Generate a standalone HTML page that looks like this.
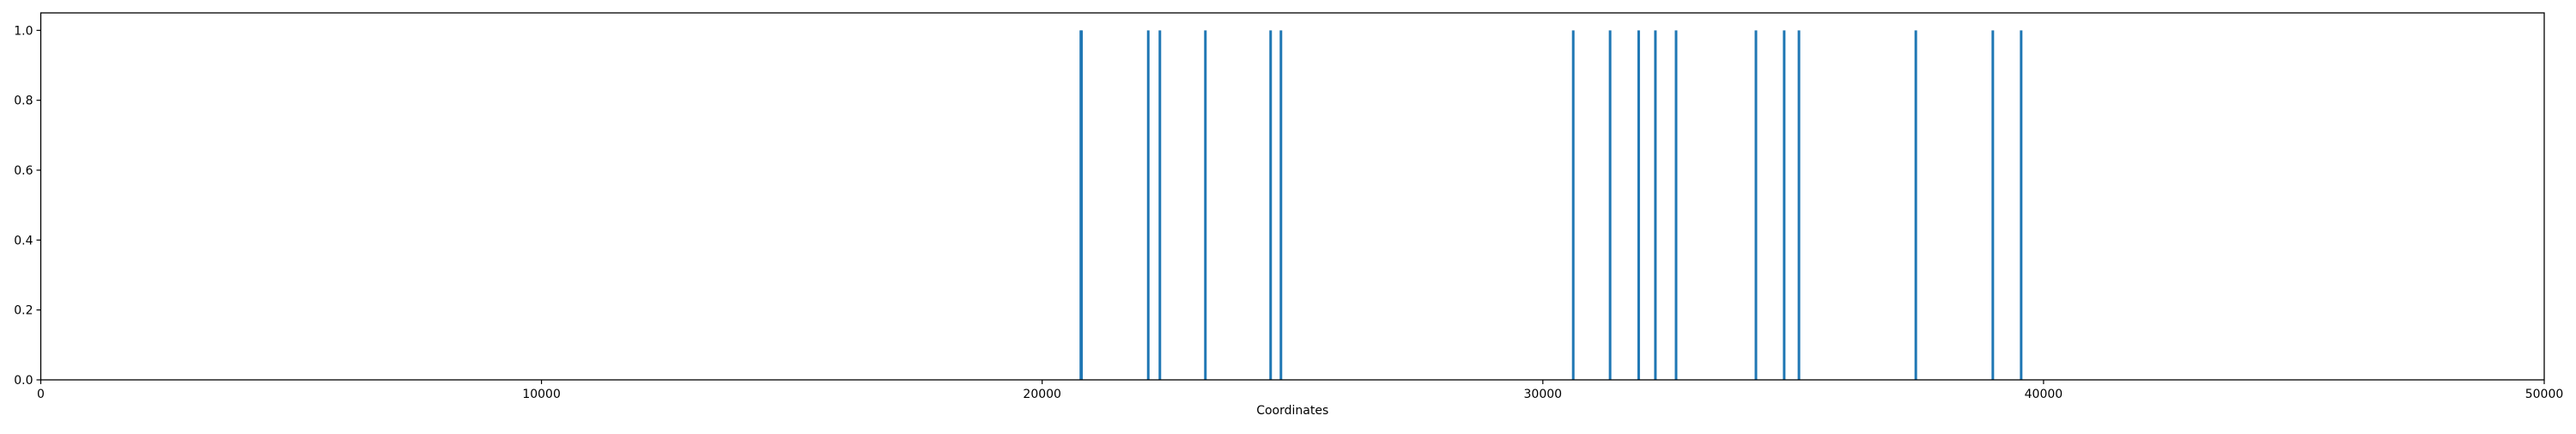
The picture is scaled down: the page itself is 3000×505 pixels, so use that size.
<!DOCTYPE html>
<html><head><meta charset="utf-8"><style>
html,body{margin:0;padding:0;background:#fff;}
svg text{font-family:"DejaVu Sans","Liberation Sans",sans-serif;font-size:14px;fill:#000;}
</style></head><body>
<svg id="chart" width="3000" height="500" xmlns="http://www.w3.org/2000/svg">
<g id="marks"></g>
<g id="axes"></g>
</svg>
<script>
const positions = [20772, 20786, 22119, 22351, 23260, 24563, 24769, 30607, 31343, 31914, 32248, 32661, 34256, 34820, 35115, 37449, 38987, 39553];
const heights = [1,1,1,1,1,1,1,1,1,1,1,1,1,1,1,1,1,1];
const xTicks = [0, 10000, 20000, 30000, 40000, 50000];
const yTicks = [0.0, 0.2, 0.4, 0.6, 0.8, 1.0];
const xLabel = "Coordinates";

const L=47.5, R=2963, T=15, B=442, XMAX=50000, YMAX=1.05;
const sx = v => L + (v/XMAX)*(R-L);
const sy = v => B - (v/YMAX)*(B-T);
const NS="http://www.w3.org/2000/svg";
function mk(tag, attrs, parent){const e=document.createElementNS(NS,tag);for(const k in attrs)e.setAttribute(k,attrs[k]);parent.appendChild(e);return e;}
const marks=document.getElementById('marks'), axes=document.getElementById('axes');
positions.forEach((p,i)=>{
  const ln=mk('line',{x1:sx(p),x2:sx(p),y1:sy(0),y2:sy(heights[i]),stroke:'#1f77b4','stroke-width':3},marks);
  
  
});
const frame=mk('rect',{x:L,y:T,width:R-L,height:B-T,fill:'none',stroke:'#000','stroke-width':1.3},axes);


xTicks.forEach(t=>{
  const x=sx(t);
  mk('line',{x1:x,x2:x,y1:B,y2:B+5,stroke:'#000','stroke-width':1.2},axes);
  const tx=mk('text',{x:x,y:B+21,'text-anchor':'middle'},axes);
  tx.textContent=String(t);
  
  
});
yTicks.forEach(t=>{
  const y=sy(t);
  mk('line',{x1:L-5,x2:L,y1:y,y2:y,stroke:'#000','stroke-width':1.2},axes);
  const tx=mk('text',{x:L-9,y:y+5,'text-anchor':'end'},axes);
  tx.textContent=t.toFixed(1);
  
  
});
const xl=mk('text',{x:(L+R)/2,y:482,'text-anchor':'middle'},axes);
xl.textContent=xLabel;


</script>
</body></html>
